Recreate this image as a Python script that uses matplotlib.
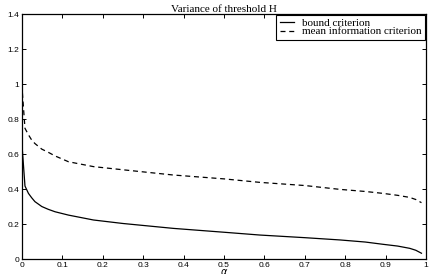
import numpy as np
import matplotlib.pyplot as plt

# values
alpha = [0.001, 0.0074, 0.016, 0.024, 0.032, 0.049, 0.065, 0.082, 0.115, 0.177,
         0.25, 0.375, 0.5, 0.589, 0.7, 0.787, 0.85, 0.894, 0.93, 0.96, 0.975, 0.989]
bound = [0.62, 0.417, 0.375, 0.35, 0.328, 0.30, 0.284, 0.27, 0.251, 0.223,
         0.203, 0.175, 0.153, 0.137, 0.122, 0.109, 0.097, 0.084, 0.074, 0.061, 0.05, 0.033]
mean_info = [0.95, 0.747, 0.71, 0.68, 0.66, 0.628, 0.61, 0.589, 0.556, 0.528,
             0.51, 0.48, 0.458, 0.438, 0.42, 0.398, 0.386, 0.375, 0.364, 0.352, 0.34, 0.322]

xticks = [0, 0.1, 0.2, 0.3, 0.4, 0.5, 0.6, 0.7, 0.8, 0.9, 1]
yticks = [0, 0.2, 0.4, 0.6, 0.8, 1, 1.2, 1.4]

plt.rcParams.update({
    "font.family": "Liberation Sans",
    "font.size": 6,
})

fig = plt.figure(figsize=(4.32, 2.74), dpi=100)
ax = fig.add_axes([0.0509, 0.0547, 0.935, 0.894])

ax.plot(alpha, bound, color="black", lw=0.9, label="bound criterion")
ax.plot(alpha, mean_info, color="black", lw=0.9, ls=(0, (4, 3)),
        label="mean information criterion")

ax.set_xlim(0, 1)
ax.set_ylim(0, 1.4)
ax.set_xticks(xticks)
ax.set_xticklabels(["0", "0.1", "0.2", "0.3", "0.4", "0.5", "0.6", "0.7", "0.8", "0.9", "1"])
ax.set_yticks(yticks)
ax.set_yticklabels(["0", "0.2", "0.4", "0.6", "0.8", "1", "1.2", "1.4"])
ax.tick_params(direction="in", length=3, width=0.7, top=True, right=True, pad=2)
for s in ax.spines.values():
    s.set_linewidth(0.9)

ax.set_title("Variance of threshold H", family="Liberation Serif", fontsize=8, pad=1.5)
ax.set_xlabel(r"$\alpha$", fontsize=7, labelpad=-1)

leg = ax.legend(loc="upper right", prop={"family": "Liberation Serif", "size": 8},
                frameon=True, fancybox=False, edgecolor="black", framealpha=1,
                borderpad=0.35, labelspacing=-0.15, handlelength=1.3, handletextpad=0.7,
                borderaxespad=0.05)
leg.get_frame().set_linewidth(0.8)

fig.savefig("out.png", dpi=100)
